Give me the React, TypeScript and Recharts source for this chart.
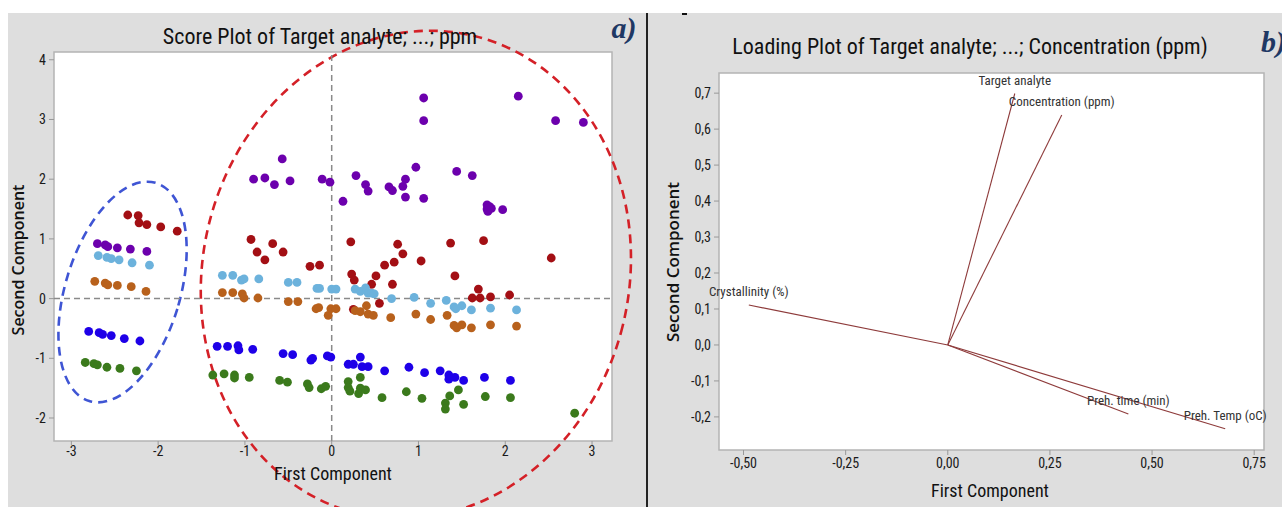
import {
  ScatterChart,
  Scatter,
  XAxis,
  YAxis,
  CartesianGrid,
  ReferenceLine,
  ReferenceArea,
  ReferenceDot,
} from "recharts";

// score plot groups: [first component, second component]
const purplePts = [
  [-2.70, 0.92], [-2.61, 0.9], [-2.58, 0.87], [-2.47, 0.85], [-2.32, 0.83], [-2.13, 0.79],
  [-0.9, 2.0], [-0.77, 2.02], [-0.66, 1.91], [-0.57, 2.34], [-0.48, 1.97], [-0.11, 2.0],
  [-0.02, 1.95], [0.13, 1.63], [0.28, 2.06], [0.39, 1.91], [0.42, 1.8], [0.66, 1.87],
  [0.7, 1.81], [0.82, 1.88], [0.85, 2.0], [0.85, 1.7], [0.97, 2.2], [1.06, 1.68],
  [1.06, 3.36], [1.06, 2.98], [1.44, 2.13], [1.62, 2.06], [1.79, 1.57], [1.79, 1.5],
  [1.84, 1.51], [1.8, 1.46], [1.82, 1.54], [1.97, 1.49], [2.15, 3.39], [2.58, 2.98],
  [2.9, 2.95],
];
const redPts = [
  [-2.35, 1.4], [-2.23, 1.39], [-2.22, 1.27], [-2.13, 1.24], [-1.97, 1.2], [-1.78, 1.13],
  [-0.93, 0.99], [-0.68, 0.92], [-0.86, 0.78], [-0.56, 0.78], [-0.77, 0.65], [-0.25, 0.54],
  [-0.14, 0.56], [0.22, 0.95], [0.23, 0.41], [0.26, 0.31], [0.25, -0.18], [0.46, 0.24],
  [0.51, 0.38], [0.55, -0.08], [0.61, 0.56], [0.7, 0.24], [0.72, 0.61], [0.76, 0.91],
  [0.82, 0.75], [1.03, 0.63], [1.37, 0.93], [1.42, 0.38], [1.62, 0.01], [1.69, 0.16],
  [1.71, 0.01], [1.75, 0.97], [1.83, 0.03], [2.05, 0.06], [2.53, 0.68],
];
const lightBluePts = [
  [-2.69, 0.72], [-2.59, 0.69], [-2.54, 0.67], [-2.45, 0.65], [-2.3, 0.6], [-2.1, 0.56],
  [-1.26, 0.39], [-1.14, 0.39], [-1.04, 0.31], [-1.01, 0.33], [-0.84, 0.33], [-0.5, 0.27],
  [-0.4, 0.27], [-0.17, 0.17], [-0.14, 0.17], [0.0, 0.16], [0.05, 0.16], [0.27, 0.16],
  [0.33, 0.12], [0.39, 0.18], [0.42, 0.09], [0.46, 0.09], [0.49, 0.08], [0.69, 0.0],
  [0.95, 0.02], [1.14, -0.08], [1.32, -0.03], [1.41, -0.14], [1.43, -0.17], [1.5, -0.12],
  [1.61, -0.19], [1.83, -0.16], [2.13, -0.19],
];
const orangePts = [
  [-2.73, 0.29], [-2.61, 0.26], [-2.58, 0.23], [-2.47, 0.22], [-2.31, 0.2], [-2.14, 0.12],
  [-1.26, 0.1], [-1.14, 0.1], [-1.03, 0.08], [-1.01, 0.01], [-0.85, 0.01], [-0.5, -0.05],
  [-0.39, -0.05], [-0.18, -0.17], [-0.15, -0.15], [-0.04, -0.28], [-0.01, -0.17], [0.05, -0.17],
  [0.27, -0.2], [0.33, -0.22], [0.4, -0.12], [0.42, -0.26], [0.48, -0.28], [0.68, -0.32],
  [0.97, -0.26], [1.14, -0.35], [1.33, -0.28], [1.41, -0.45], [1.44, -0.49], [1.5, -0.44],
  [1.61, -0.49], [1.83, -0.44], [2.13, -0.46],
];
const bluePts = [
  [-2.8, -0.55], [-2.68, -0.57], [-2.64, -0.6], [-2.54, -0.62], [-2.39, -0.67], [-2.21, -0.71],
  [-1.32, -0.8], [-1.2, -0.8], [-1.08, -0.79], [-1.07, -0.86], [-0.91, -0.85], [-0.56, -0.92],
  [-0.45, -0.94], [-0.24, -1.03], [-0.22, -1.0], [-0.05, -0.96], [-0.01, -0.98], [0.19, -1.1],
  [0.25, -1.1], [0.33, -0.98], [0.35, -1.14], [0.42, -1.14], [0.61, -1.21], [0.89, -1.15],
  [1.07, -1.24], [1.25, -1.21], [1.35, -1.28], [1.35, -1.35], [1.42, -1.32], [1.52, -1.37],
  [1.76, -1.32], [2.06, -1.37],
];
const greenPts = [
  [-2.84, -1.07], [-2.74, -1.09], [-2.7, -1.11], [-2.59, -1.15], [-2.44, -1.17], [-2.25, -1.21],
  [-1.37, -1.28], [-1.24, -1.26], [-1.12, -1.28], [-1.12, -1.33], [-0.95, -1.32], [-0.6, -1.37],
  [-0.51, -1.4], [-0.28, -1.43], [-0.26, -1.49], [-0.12, -1.51], [-0.07, -1.47], [0.19, -1.39],
  [0.19, -1.49], [0.21, -1.55], [0.31, -1.59], [0.33, -1.32], [0.33, -1.5], [0.39, -1.53],
  [0.58, -1.66], [0.86, -1.56], [1.04, -1.67], [1.31, -1.75], [1.31, -1.85], [1.36, -1.63],
  [1.46, -1.53], [1.52, -1.77], [1.77, -1.64], [2.06, -1.66], [2.8, -1.92],
];

const scoreTicksX = [-3, -2, -1, 0, 1, 2, 3];
const scoreTicksY = [-2, -1, 0, 1, 2, 3, 4];

// loading plot
const loadingNames = [
  "Target analyte",
  "Concentration (ppm)",
  "Crystallinity (%)",
  "Preh. time (min)",
  "Preh. Temp (oC)",
];
const loadingPC1 = [0.164, 0.279, -0.487, 0.442, 0.679];
const loadingPC2 = [0.699, 0.639, 0.111, -0.192, -0.233];

const loadTicksX = [-0.5, -0.25, 0, 0.25, 0.5, 0.75];
const loadTicksY = [-0.2, -0.1, 0, 0.1, 0.2, 0.3, 0.4, 0.5, 0.6, 0.7];

// group outlines (data units): centre, half-widths, tilt in degrees
const groupOutlines = [
  { cx: -2.41, cy: 0.11, rx: 0.66, ry: 1.91, tilt: 17, color: "#3f55d4" },
  { cx: 0.97, cy: 0.4, rx: 2.455, ry: 4.116, tilt: 14, color: "#d42027" },
];

const SCORE_X = [-3.2, 3.23];
const SCORE_Y = [-2.385, 4.13];
const LOAD_X = [-0.56, 0.774];
const LOAD_Y = [-0.292, 0.756];

const NARROW = "'Liberation Sans Narrow', 'Arial Narrow', 'Roboto Condensed', sans-serif";
const BOLD_SANS = "'Open Sans', 'DejaVu Sans', sans-serif";
const PANEL = "#dedede";
const FRAME = "#b4b4b4";
const LOADING = "#8e3b3b";

const toPoints = (pts: number[][]) => pts.map(([x, y]) => ({ x, y }));

const series = [
  { name: "purple", data: toPoints(purplePts), color: "#6c00ad" },
  { name: "red", data: toPoints(redPts), color: "#a30f14" },
  { name: "lightblue", data: toPoints(lightBluePts), color: "#6cb2dc" },
  { name: "orange", data: toPoints(orangePts), color: "#b8611c" },
  { name: "blue", data: toPoints(bluePts), color: "#1e00e8" },
  { name: "green", data: toPoints(greenPts), color: "#3b7a1c" },
];

const tickStyle = { fontFamily: NARROW, fontSize: 14, fill: "#1a1a1a" };
const comma = (d: number) => (v: number) => v.toFixed(d).replace(".", ",");

function ellipseShape(tilt: number, color: string) {
  return (p: any) => {
    const cx = p.x + p.width / 2;
    const cy = p.y + p.height / 2;
    return (
      <ellipse
        cx={cx}
        cy={cy}
        rx={Math.abs(p.width / 2)}
        ry={Math.abs(p.height / 2)}
        transform={`rotate(${tilt} ${cx} ${cy})`}
        fill="none"
        stroke={color}
        strokeWidth={2.6}
        strokeDasharray="9 6"
      />
    );
  };
}

function ScorePlot() {
  return (
    <ScatterChart
      width={638}
      height={494}
      margin={{ top: 39, right: 34, left: 16, bottom: 36 }}
    >
      <CartesianGrid fill="#fff" stroke="none" horizontal={false} vertical={false} />
      <XAxis
        type="number"
        dataKey="x"
        domain={SCORE_X}
        allowDataOverflow
        ticks={scoreTicksX}
        height={30}
        axisLine={false}
        tickLine={{ stroke: "#999" }}
        tickSize={4}
        tickMargin={1}
        tick={tickStyle}
      />
      <YAxis
        type="number"
        dataKey="y"
        domain={SCORE_Y}
        allowDataOverflow
        ticks={scoreTicksY}
        width={30}
        axisLine={false}
        tickLine={{ stroke: "#999" }}
        tickSize={5}
        tickMargin={3}
        tick={tickStyle}
      />
      <ReferenceArea
        x1={SCORE_X[0]}
        x2={SCORE_X[1]}
        y1={SCORE_Y[0]}
        y2={SCORE_Y[1]}
        fill="none"
        stroke={FRAME}
        strokeWidth={1.5}
        ifOverflow="visible"
      />
      <ReferenceLine x={0} stroke="#8a8a8a" strokeWidth={1.5} strokeDasharray="6 4" />
      <ReferenceLine y={0} stroke="#8a8a8a" strokeWidth={1.5} strokeDasharray="6 4" />
      {series.map((s) => (
        <Scatter
          key={s.name}
          data={s.data}
          fill={s.color}
          isAnimationActive={false}
          shape={(p: any) => <circle cx={p.cx} cy={p.cy} r={4.4} fill={s.color} />}
        />
      ))}
      {groupOutlines.map((g, i) => (
        <ReferenceArea
          key={i}
          x1={g.cx - g.rx}
          x2={g.cx + g.rx}
          y1={g.cy - g.ry}
          y2={g.cy + g.ry}
          ifOverflow="visible"
          shape={ellipseShape(g.tilt, g.color)}
        />
      ))}
    </ScatterChart>
  );
}

function LoadingPlot() {
  return (
    <ScatterChart
      width={633}
      height={494}
      margin={{ top: 60, right: 18, left: 30, bottom: 27 }}
    >
      <CartesianGrid fill="#fff" stroke="none" horizontal={false} vertical={false} />
      <XAxis
        type="number"
        dataKey="x"
        domain={LOAD_X}
        allowDataOverflow
        ticks={loadTicksX}
        tickFormatter={comma(2)}
        height={30}
        axisLine={false}
        tickLine={{ stroke: "#999" }}
        tickSize={5}
        tickMargin={3}
        tick={tickStyle}
      />
      <YAxis
        type="number"
        dataKey="y"
        domain={LOAD_Y}
        allowDataOverflow
        ticks={loadTicksY}
        tickFormatter={comma(1)}
        width={40}
        axisLine={false}
        tickLine={{ stroke: "#999" }}
        tickSize={5}
        tickMargin={3}
        tick={tickStyle}
      />
      <ReferenceArea
        x1={LOAD_X[0]}
        x2={LOAD_X[1]}
        y1={LOAD_Y[0]}
        y2={LOAD_Y[1]}
        fill="none"
        stroke={FRAME}
        strokeWidth={1.5}
        ifOverflow="visible"
      />
      {loadingNames.map((n, i) => (
        <ReferenceLine
          key={n}
          segment={[
            { x: 0, y: 0 },
            { x: loadingPC1[i], y: loadingPC2[i] },
          ]}
          stroke={LOADING}
          strokeWidth={1.1}
        />
      ))}
      {loadingNames.map((n, i) => (
        <ReferenceDot
          key={"l" + n}
          x={loadingPC1[i]}
          y={loadingPC2[i]}
          r={0}
          fill="none"
          stroke="none"
          label={{
            value: n,
            position: "top",
            offset: 9,
            fontFamily: NARROW,
            fontSize: 13,
            fill: "#333",
          }}
        />
      ))}
    </ScatterChart>
  );
}

const abs = (left: number, top: number, extra: any = {}) => ({
  position: "absolute" as const,
  left,
  top,
  whiteSpace: "nowrap" as const,
  ...extra,
});

export default function App() {
  return (
    <div
      style={{
        position: "absolute",
        left: 0,
        top: 0,
        width: 1282,
        height: 507,
        overflow: "hidden",
        background: "#fff",
      }}
    >
      <div style={abs(8, 13, { width: 638, height: 494, background: PANEL })}>
        <ScorePlot />
        <div
          style={abs(312, 23, {
            transform: "translate(-50%, -50%)",
            fontFamily: NARROW,
            fontSize: 22,
            color: "#111",
          })}
        >
          Score Plot of Target analyte; ...; ppm
        </div>
        <div
          style={abs(325, 460, {
            transform: "translate(-50%, -50%)",
            fontFamily: NARROW,
            fontSize: 18,
            color: "#111",
          })}
        >
          First Component
        </div>
        <div
          style={abs(10, 247, {
            transform: "translate(-50%, -50%) rotate(-90deg)",
            fontFamily: BOLD_SANS,
            fontWeight: 600,
            fontSize: 16,
            color: "#111",
          })}
        >
          Second Component
        </div>
        <div
          style={abs(616, 15, {
            transform: "translate(-50%, -50%)",
            fontFamily: "'Liberation Serif', serif",
            fontStyle: "italic",
            fontWeight: 700,
            fontSize: 30,
            color: "#1f3864",
          })}
        >
          a)
        </div>
      </div>
      <div style={abs(646, 13, { width: 2, height: 494, background: "#222" })} />
      <div style={abs(648, 13, { width: 634, height: 494, background: PANEL })} />
      <div style={abs(649, 13, { width: 633, height: 494 })}>
        <LoadingPlot />
        <div style={abs(33, 0, { width: 5, height: 2, background: "#111" })} />
        <div
          style={abs(321, 33, {
            transform: "translate(-50%, -50%)",
            fontFamily: NARROW,
            fontSize: 22,
            color: "#111",
          })}
        >
          Loading Plot of Target analyte; ...; Concentration (ppm)
        </div>
        <div
          style={abs(341, 477, {
            transform: "translate(-50%, -50%)",
            fontFamily: NARROW,
            fontSize: 18,
            color: "#111",
          })}
        >
          First Component
        </div>
        <div
          style={abs(23, 249, {
            transform: "translate(-50%, -50%) rotate(-90deg)",
            fontFamily: BOLD_SANS,
            fontWeight: 600,
            fontSize: 17,
            color: "#111",
          })}
        >
          Second Component
        </div>
        <div
          style={abs(612, 12, {
            fontFamily: "'Liberation Serif', serif",
            fontStyle: "italic",
            fontWeight: 700,
            fontSize: 30,
            color: "#1f3864",
          })}
        >
          b)
        </div>
      </div>
    </div>
  );
}
